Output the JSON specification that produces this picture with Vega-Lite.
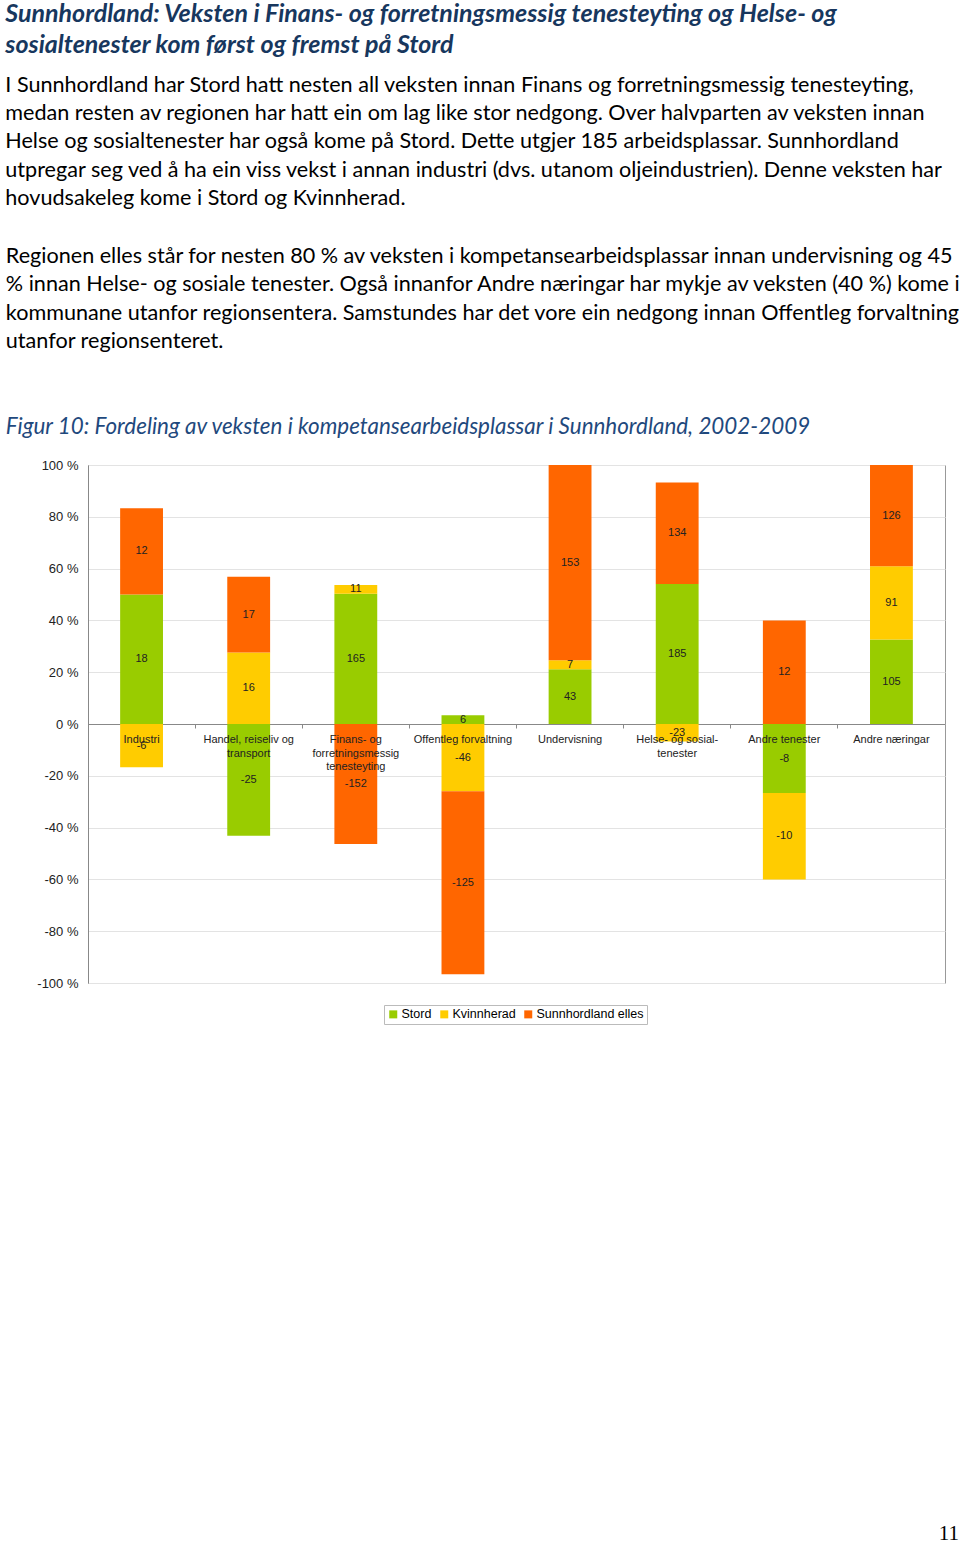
{
  "$schema": "https://vega.github.io/schema/vega-lite/v6.json",
  "background": "white",
  "padding": {"left": 5, "top": 1, "right": 0, "bottom": 0},
  "autosize": {"type": "pad"},
  "config": {"view": {"stroke": "#999999"}, "font": "Liberation Sans"},
  "resolve": {"legend": {"color": "independent"}},
  "title": {
    "text": ["Sunnhordland: Veksten i Finans- og forretningsmessig tenesteyting og Helse- og", "sosialtenester kom først og fremst på Stord"],
    "subtitle": [
      "I Sunnhordland har Stord hatt nesten all veksten innan Finans og forretningsmessig tenesteyting,",
      "medan resten av regionen har hatt ein om lag like stor nedgong.  Over halvparten av veksten innan",
      "Helse og sosialtenester har også kome på Stord. Dette utgjer 185 arbeidsplassar. Sunnhordland",
      "utpregar seg ved å ha ein viss vekst i  annan industri (dvs. utanom oljeindustrien). Denne veksten har",
      "hovudsakeleg kome i Stord og Kvinnherad."
    ],
    "anchor": "start",
    "frame": "bounds",
    "font": "Lato",
    "fontSize": 25,
    "fontStyle": "italic",
    "fontWeight": "bold",
    "color": "#17375E",
    "lineHeight": 31,
    "subtitleFont": "Lato",
    "subtitleFontSize": 21.6,
    "subtitleColor": "#000000",
    "subtitleLineHeight": 28.3,
    "subtitlePadding": 17,
    "offset": 36
  },
  "spacing": 20,
  "vconcat": [
    {
      "width": 857,
      "height": 518,
      "title": {
        "text": [
          "Regionen elles står for nesten 80 % av veksten i kompetansearbeidsplassar innan undervisning og 45",
          "% innan Helse- og sosiale tenester. Også innanfor Andre næringar har mykje av veksten (40 %) kome i",
          "kommunane utanfor regionsentera. Samstundes har det vore ein nedgong innan Offentleg forvaltning",
          "utanfor regionsenteret."
        ],
        "subtitle": "Figur 10: Fordeling av veksten i kompetansearbeidsplassar i Sunnhordland, 2002-2009",
        "anchor": "start",
        "frame": "bounds",
        "dx": -31,
        "font": "Lato",
        "fontSize": 21.6,
        "fontStyle": "normal",
        "fontWeight": "normal",
        "color": "#000000",
        "lineHeight": 28.3,
        "subtitleFont": "Lato",
        "subtitleFontSize": 22.4,
        "subtitleFontStyle": "italic",
        "subtitleFontWeight": "normal",
        "subtitleColor": "#1F497D",
        "subtitlePadding": 63,
        "offset": 21
      },
      "data": {
        "values": [
          {"cat": "Industri", "s": "Stord", "o": 1, "v": 18, "pct": 50.0},
          {"cat": "Industri", "s": "Kvinnherad", "o": 2, "v": -6, "pct": -16.67},
          {"cat": "Industri", "s": "Sunnhordland elles", "o": 3, "v": 12, "pct": 33.33},
          {"cat": "Handel, reiseliv og\ntransport", "s": "Stord", "o": 1, "v": -25, "pct": -43.1},
          {"cat": "Handel, reiseliv og\ntransport", "s": "Kvinnherad", "o": 2, "v": 16, "pct": 27.59},
          {"cat": "Handel, reiseliv og\ntransport", "s": "Sunnhordland elles", "o": 3, "v": 17, "pct": 29.31},
          {"cat": "Finans- og\nforretningsmessig\ntenesteyting", "s": "Stord", "o": 1, "v": 165, "pct": 50.3},
          {"cat": "Finans- og\nforretningsmessig\ntenesteyting", "s": "Kvinnherad", "o": 2, "v": 11, "pct": 3.35},
          {"cat": "Finans- og\nforretningsmessig\ntenesteyting", "s": "Sunnhordland elles", "o": 3, "v": -152, "pct": -46.34},
          {"cat": "Offentleg forvaltning", "s": "Stord", "o": 1, "v": 6, "pct": 3.39},
          {"cat": "Offentleg forvaltning", "s": "Kvinnherad", "o": 2, "v": -46, "pct": -25.99},
          {"cat": "Offentleg forvaltning", "s": "Sunnhordland elles", "o": 3, "v": -125, "pct": -70.62},
          {"cat": "Undervisning", "s": "Stord", "o": 1, "v": 43, "pct": 21.18},
          {"cat": "Undervisning", "s": "Kvinnherad", "o": 2, "v": 7, "pct": 3.45},
          {"cat": "Undervisning", "s": "Sunnhordland elles", "o": 3, "v": 153, "pct": 75.37},
          {"cat": "Helse- og sosial-\ntenester", "s": "Stord", "o": 1, "v": 185, "pct": 54.09},
          {"cat": "Helse- og sosial-\ntenester", "s": "Kvinnherad", "o": 2, "v": -23, "pct": -6.73},
          {"cat": "Helse- og sosial-\ntenester", "s": "Sunnhordland elles", "o": 3, "v": 134, "pct": 39.18},
          {"cat": "Andre tenester", "s": "Stord", "o": 1, "v": -8, "pct": -26.67},
          {"cat": "Andre tenester", "s": "Kvinnherad", "o": 2, "v": -10, "pct": -33.33},
          {"cat": "Andre tenester", "s": "Sunnhordland elles", "o": 3, "v": 12, "pct": 40.0},
          {"cat": "Andre næringar", "s": "Stord", "o": 1, "v": 105, "pct": 32.61},
          {"cat": "Andre næringar", "s": "Kvinnherad", "o": 2, "v": 91, "pct": 28.26},
          {"cat": "Andre næringar", "s": "Sunnhordland elles", "o": 3, "v": 126, "pct": 39.13}
        ]
      },
      "transform": [
        {"stack": "pct", "groupby": ["cat"], "sort": [{"field": "o", "order": "ascending"}], "as": ["y0", "y1"], "offset": "zero"}
      ],
      "encoding": {
        "x": {
          "field": "cat",
          "type": "nominal",
          "sort": null,
          "scale": {"paddingInner": 0, "paddingOuter": 0},
          "axis": {
            "orient": "bottom",
            "offset": -259,
            "labels": false,
            "title": null,
            "domainColor": "#888888",
            "tickColor": "#888888",
            "tickSize": 4,
            "bandPosition": 0,
            "grid": false
          }
        }
      },
      "layer": [
        {
          "mark": {"type": "bar", "width": {"band": 0.4}},
          "encoding": {
            "y": {
              "field": "y0",
              "type": "quantitative",
              "scale": {"domain": [-100, 100], "nice": false},
              "axis": {
                "values": [-100, -80, -60, -40, -20, 0, 20, 40, 60, 80, 100],
                "labelExpr": "datum.value + ' %'",
                "title": null,
                "ticks": false,
                "labelPadding": 10,
                "labelFontSize": 13,
                "labelColor": "#222222",
                "domainColor": "#888888",
                "gridColor": "#e3e3e3"
              }
            },
            "y2": {"field": "y1"},
            "color": {
              "field": "s",
              "type": "nominal",
              "scale": {"domain": ["Stord", "Kvinnherad", "Sunnhordland elles"], "range": ["#99CC00", "#FFCC00", "#FF6600"]},
              "legend": {
                "title": null,
                "orient": "none",
                "legendX": 296,
                "legendY": 540,
                "direction": "horizontal",
                "symbolType": "square",
                "symbolSize": 64,
                "symbolStrokeWidth": 0,
                "labelFontSize": 12.5,
                "labelColor": "#000000",
                "labelOffset": 2,
                "columnPadding": 6,
                "strokeColor": "#bbbbbb",
                "padding": 3
              }
            }
          }
        },
        {
          "transform": [{"calculate": "(datum.y0 + datum.y1) / 2", "as": "mid"}],
          "mark": {"type": "text", "fontSize": 11, "color": "#222222"},
          "encoding": {
            "y": {"field": "mid", "type": "quantitative"},
            "text": {"field": "v"}
          }
        },
        {
          "transform": [{"filter": "datum.s === 'Stord'"}],
          "mark": {"type": "text", "baseline": "top", "dy": 10, "lineBreak": "\n", "lineHeight": 13.5, "fontSize": 11, "color": "#222222"},
          "encoding": {
            "y": {"datum": 0},
            "text": {"field": "cat"}
          }
        }
      ]
    },
    {
      "width": 857,
      "height": 478,
      "view": {"stroke": null},
      "data": {"values": []},
      "mark": "text",
      "title": {
        "text": "11",
        "orient": "bottom",
        "anchor": "end",
        "frame": "group",
        "font": "Liberation Serif",
        "fontSize": 21,
        "fontWeight": "normal",
        "color": "#000000",
        "dx": 14,
        "offset": 0
      }
    }
  ]
}
